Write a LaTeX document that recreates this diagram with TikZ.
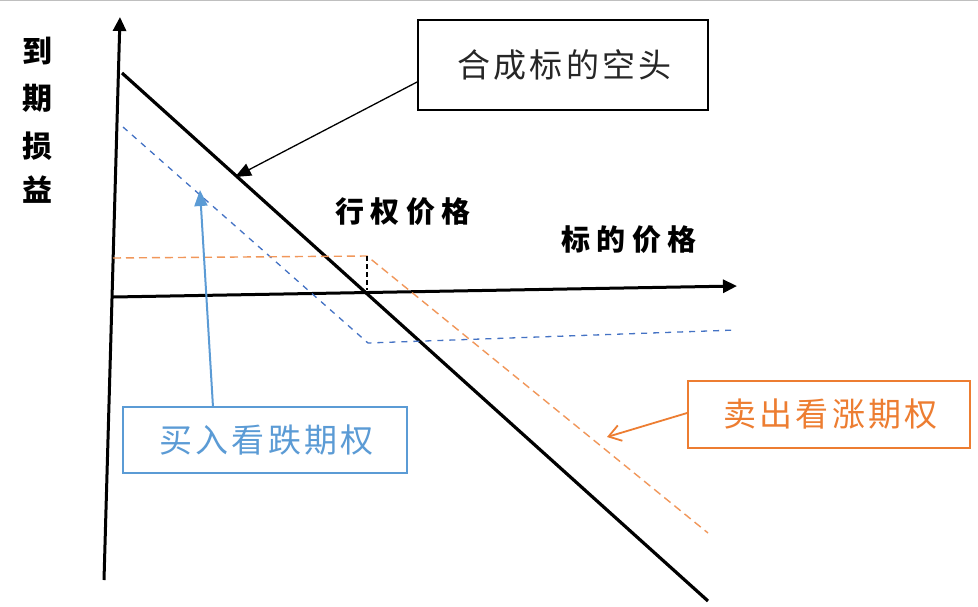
\documentclass[tikz,border=0pt]{standalone}
\usepackage{fontspec}
\setmainfont{Noto Sans CJK SC}
\usetikzlibrary{arrows.meta}
\definecolor{ora}{HTML}{ED7D31}
\definecolor{blu}{HTML}{5B9BD5}
\definecolor{bludash}{HTML}{4472C4}
\begin{document}
\begin{tikzpicture}[x=1pt,y=-1pt,
  axis/.style={line width=3pt,-{Triangle[length=14pt,width=13pt]}},
  lbl/.style={font=\fontsize{29}{32}\selectfont\bfseries\addfontfeature{LetterSpace=22},inner sep=0pt},
  ylbl/.style={font=\fontsize{30}{32}\selectfont\bfseries,inner sep=0pt},
  boxlbl/.style={draw,line width=1.8pt,minimum width=#1,font=\fontsize{33}{36}\selectfont\addfontfeature{LetterSpace=10},inner sep=0pt},
  odash/.style={ora!80,line width=1.4pt,dash pattern=on 8pt off 5pt},
  bdash/.style={bludash,line width=1.3pt,dash pattern=on 6pt off 6pt}]
\fill[white] (0,0) rectangle (978,606);
\useasboundingbox (0,0) rectangle (978,606);
\draw[gray!50,line width=1pt] (0,0.5) -- (978,0.5);
% axes
\coordinate (yb) at (104,580);
\coordinate (yt) at (120,17);
\coordinate (xl) at (113,297);
\coordinate (xr) at (737,286);
\draw[axis] (yb) -- (yt);
\draw[axis] (xl) -- (xr);
% synthetic short
\coordinate (s1) at (122,73);
\coordinate (s2) at (708,601);
\draw[line width=3.2pt] (s1) -- (s2);
% long put (blue dashed)
\coordinate (p1) at (123,127);
\coordinate (p2) at (368,343);
\coordinate (p3) at (736,330);
\draw[bdash] (p1) -- (p2) -- (p3);
% short call (orange dashed)
\coordinate (c1) at (113,258);
\coordinate (c2) at (367,256);
\coordinate (c3) at (708,533);
\draw[odash] (c1) -- (c2) -- (c3);
% strike marker
\coordinate (k0) at (367,290);
\draw[line width=1.3pt,dash pattern=on 5pt off 3pt] (c2) -- (k0);
% labels
\node[ylbl] (y1) at (37,51) {到};
\node[ylbl] (y2) at (37,98) {期};
\node[ylbl] (y3) at (37,146) {损};
\node[ylbl] (y4) at (37,190) {益};
\node[lbl] (strike) at (403,212) {行权价格};
\node[lbl] (under) at (629,240) {标的价格};
% boxes
\node[boxlbl=290pt,minimum height=90pt,text=black!85] (bx1) at (563,65) {\hspace{3.3pt}合成标的空头};
\node[boxlbl=284pt,minimum height=66pt,draw=blu,text=blu] (bx2) at (265,440) {\hspace{3.3pt}买入看跌期权};
\node[boxlbl=282pt,minimum height=67pt,draw=ora,text=ora] (bx3) at (829,414.5) {\hspace{3.3pt}卖出看涨期权};
% callouts
\coordinate (a1) at (bx1.west |- 0,82);
\coordinate (t1) at (235,177);
\draw[line width=1.3pt,-{Triangle[length=16pt,width=13pt]}] (a1) -- (t1);
\coordinate (a2) at (213,407);
\coordinate (t2) at (200,190);
\draw[blu,line width=2pt,-{Triangle[length=16pt,width=13pt]}] (a2) -- (t2);
\coordinate (a3) at (bx3.west |- 0,413);
\coordinate (t3) at (607,437);
\draw[ora,line width=1.8pt,-{Straight Barb[length=12pt,width=16pt]}] (a3) -- (t3);
\end{tikzpicture}
\end{document}
